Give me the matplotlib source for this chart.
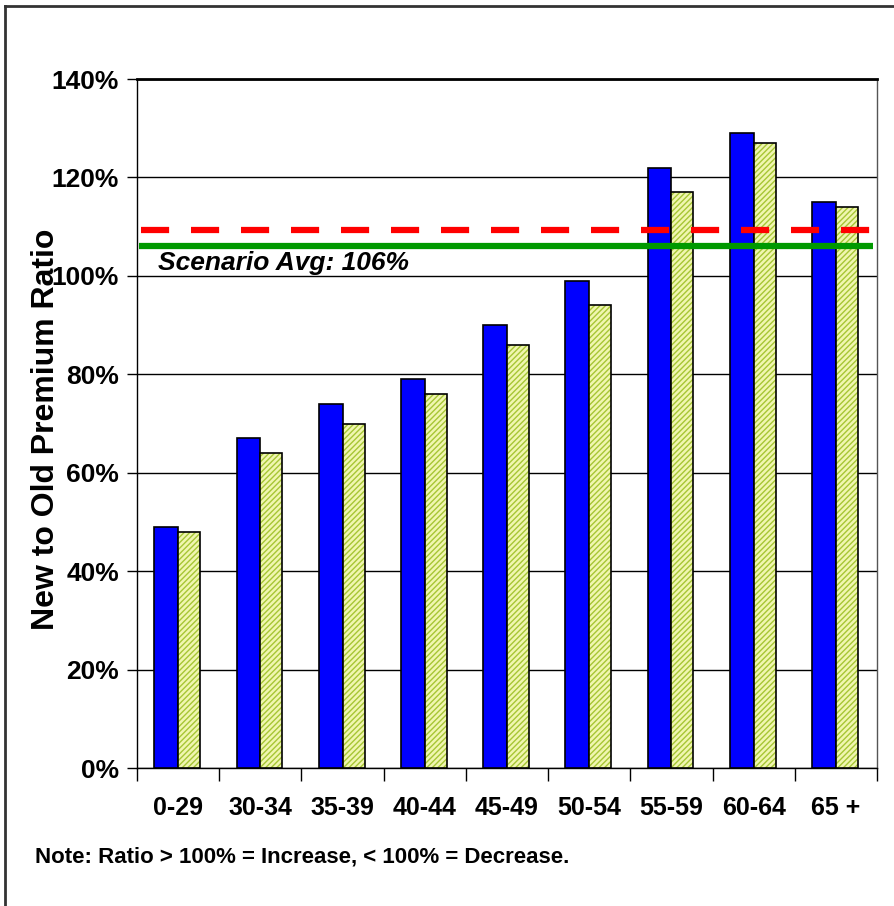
import matplotlib
matplotlib.use("Agg")
import matplotlib.pyplot as plt
import numpy as np
from matplotlib.lines import Line2D
from matplotlib.ticker import MultipleLocator, PercentFormatter

plt.rcParams['font.family'] = ['Liberation Sans', 'DejaVu Sans']
plt.rcParams['font.weight'] = 'bold'

age_groups = ['0-29', '30-34', '35-39', '40-44', '45-49', '50-54', '55-59', '60-64', '65 +']
ratio_a = [49, 67, 74, 79, 90, 99, 122, 129, 115]   # solid blue
ratio_b = [48, 64, 70, 76, 86, 94, 117, 127, 114]   # hatched
scenario_avg = 106
red_ref = 109.3
note = 'Note: Ratio > 100% = Increase, < 100% = Decrease.'

fig = plt.figure(figsize=(8.95, 9.06), dpi=100)
ax = fig.add_axes([0.1531, 0.1523, 0.8268, 0.7605])

x = np.arange(len(age_groups))
w = 0.29
ax.bar(x - w, ratio_a, width=w, align='edge', color='#0000ff',
       edgecolor='black', linewidth=1.2, zorder=3)
ax.bar(x, ratio_b, width=w * 0.92, align='edge', color='#f0f6b0',
       edgecolor='#a6c634', hatch='//////', linewidth=0, zorder=3)
ax.bar(x, ratio_b, width=w * 0.92, align='edge', fill=False,
       edgecolor='black', linewidth=1.2, zorder=4)

ax.plot([-0.45, 8.45], [red_ref, red_ref], color='#ff0000', lw=4.5,
        dashes=(4.5, 3.5), zorder=5)
ax.plot([-0.48, 8.45], [scenario_avg, scenario_avg], color='#009900', lw=4.5,
        solid_capstyle='butt', zorder=5)
ax.text(-0.25, scenario_avg - 1.0, f'Scenario Avg: {scenario_avg}%', style='italic',
        fontsize=19, fontweight='bold', va='top', ha='left', zorder=6)

ax.set_xlim(-0.5, len(age_groups) - 0.5)
ax.set_ylim(0, 140)
ax.yaxis.set_major_locator(MultipleLocator(20))
ax.yaxis.set_major_formatter(PercentFormatter(decimals=0))
ax.grid(axis='y', color='black', linewidth=1, zorder=0)
ax.set_axisbelow(True)

ax.set_xticks(np.arange(len(age_groups) + 1) - 0.5)
ax.set_xticklabels([])
ax.set_xticks(x, minor=True)
ax.set_xticklabels(age_groups, minor=True, fontsize=18, fontweight='bold')
ax.tick_params(axis='x', which='minor', length=0, pad=20)
ax.tick_params(axis='x', which='major', length=9, width=1)
ax.tick_params(axis='y', length=7, width=1, labelsize=19, pad=6)
for lbl in ax.get_yticklabels():
    lbl.set_fontweight('bold')

ax.set_ylabel('New to Old Premium Ratio', fontsize=23, fontweight='bold')
ax.yaxis.set_label_coords(-0.103, 0.491)
for s in ['left', 'bottom', 'right']:
    ax.spines[s].set_linewidth(1)
ax.spines['right'].set_color('#555555')
ax.spines['top'].set_linewidth(2)

fig.text(35 / 895, 1 - 857 / 906, note, fontsize=16, fontweight='bold', va='center')

# outer frame (only top and left edges fall inside the canvas)
fig.add_artist(Line2D([5 / 895, 1.0], [1 - 6 / 906, 1 - 6 / 906], color='#333333', lw=2))
fig.add_artist(Line2D([5 / 895, 5 / 895], [0.0, 1 - 6 / 906], color='#333333', lw=2))

fig.savefig('out.png', dpi=100)
